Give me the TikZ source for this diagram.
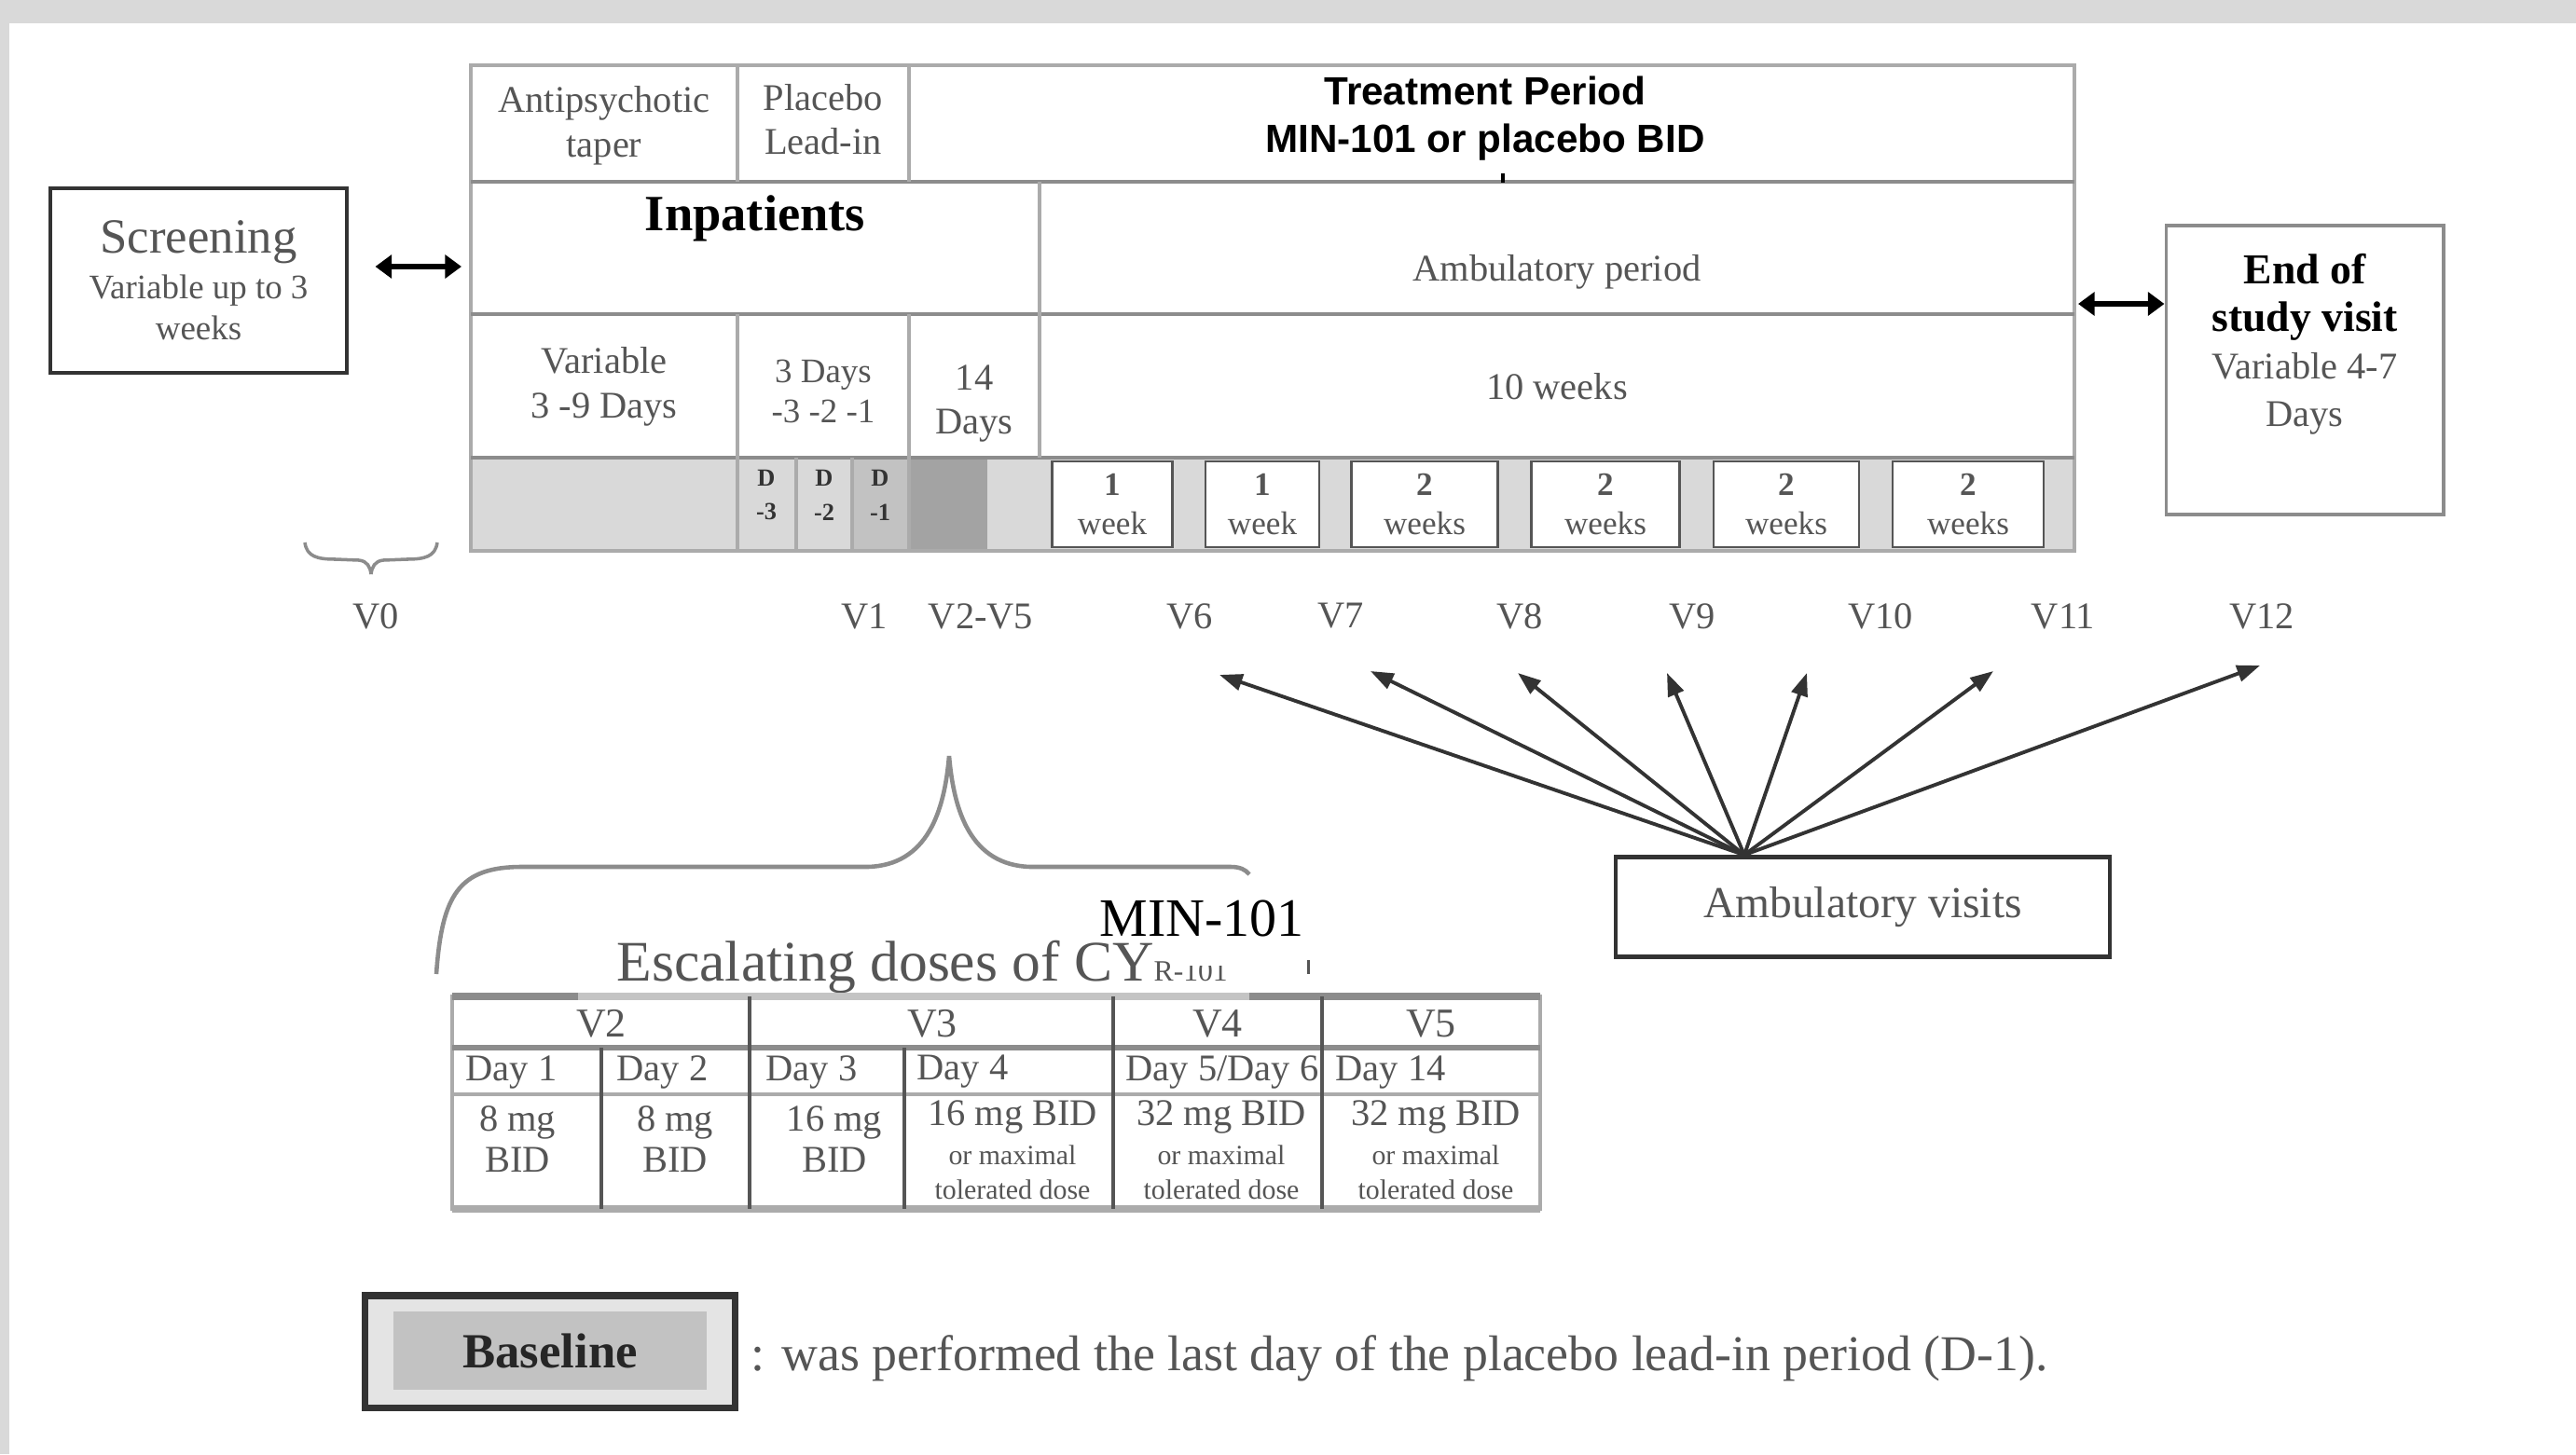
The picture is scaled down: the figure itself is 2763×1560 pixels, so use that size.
\documentclass[tikz,border=0pt]{standalone}
\usepackage{fontspec}
\setmainfont{Liberation Serif}
\newfontfamily\arialfont{Liberation Sans}
\usetikzlibrary{arrows.meta}
\definecolor{cornice}{HTML}{D9D9D9}
\definecolor{testo}{HTML}{555555}
\definecolor{bordo}{HTML}{8C8C8C}
\definecolor{grigio}{HTML}{ABABAB}
\definecolor{barra}{HTML}{D9D9D9}
\definecolor{barramedia}{HTML}{C2C2C2}
\definecolor{barrascura}{HTML}{A3A3A3}
\definecolor{nero}{HTML}{333333}
\definecolor{chiaro}{HTML}{E4E4E4}
\newcommand\setfs[2]{\fontsize{#1}{#2}\selectfont}
\begin{document}
\begin{tikzpicture}[x=0.01cm,y=-0.01cm,
    cella/.style={text=testo, align=center, inner sep=0pt, font=\setfs{11.5}{13.5}},
    visita/.style={text=testo, inner sep=0pt, font=\setfs{11.5}{13.5}},
    dose/.style={text=testo, align=center, inner sep=0pt, font=\setfs{11.5}{12.5}},
    piccolo/.style={text=testo, align=center, inner sep=0pt, font=\setfs{8.5}{10.5}},
    settimana/.style={draw=testo, fill=white, line width=0.8pt, minimum height=0.92cm,
        align=center, text=testo, inner sep=0pt, font=\setfs{10}{12}},
    doppia/.style={{Triangle[length=5pt,width=7pt]}-{Triangle[length=5pt,width=7pt]}, line width=1.6pt},
    freccia/.style={-{Triangle[length=7pt,width=5pt]}, line width=1.1pt, draw=nero},
    riga/.style={draw=bordo, line width=1.2pt},
    linea/.style={draw=grigio, line width=0.9pt},
    graffa/.style={draw=bordo, line width=1.3pt}]
    \useasboundingbox (0,0) rectangle (2763,1560);
    \fill[cornice] (0,0) rectangle (2763,1560);
    \fill[white] (10,25) rectangle (2763,1560);

    % tabella
    \fill[barra] (505,491) rectangle (2225,591);
    \fill[barramedia] (914,491) rectangle (975,591);
    \fill[barrascura] (975,491) rectangle (1059,591);
    \draw[linea, line width=1.2pt] (505,70) rectangle (2225,591);
    \draw[riga] (505,195) -- (2225,195);
    \draw[riga] (505,337) -- (2225,337);
    \draw[riga] (505,491) -- (2225,491);
    \draw[linea] (791,70) -- (791,195);
    \draw[linea] (975,70) -- (975,195);
    \draw[linea] (1115,195) -- (1115,491);
    \foreach \x in {791,975}
        \draw[linea] (\x,337) -- (\x,591);
    \foreach \x in {854,914}
        \draw[linea] (\x,491) -- (\x,591);
    \fill (1610,186) rectangle (1614,196);

    \node[cella] (antip) at (648,135) {Antipsychotic\\taper};
    \node[cella] (lead) at (883,128) {Placebo\\Lead-in};
    \node[cella, text=black, font=\arialfont\bfseries\setfs{12}{14.5}] (treat) at (1593,127) {Treatment Period\\MIN-101 or placebo BID};
    \node[cella, text=black, font=\bfseries\setfs{15.5}{18}] (inpat) at (810,234) {Inpatients};
    \node[cella] (ambper) at (1670,292) {Ambulatory period};
    \node[cella] (var) at (648,415) {Variable\\3 -9 Days};
    \node[cella, font=\setfs{10.5}{12}] (tre) at (883,420) {3 Days\\-3 -2 -1};
    \node[cella] (quattordici) at (1045,433) {14\\Days};
    \node[cella] (dieci) at (1670,415) {10 weeks};

    \foreach \x/\d [count=\i] in {822/-3, 884/-2, 944/-1}
        \node[cella, text=black!80, font=\bfseries\setfs{7.5}{10.5}] (d\i) at (\x,531) {D\\\d};

    \foreach \x/\w/\n/\u [count=\i] in {1193/1.29cm/1/week, 1354/1.22cm/1/week,
            1528/1.57cm/2/weeks, 1722/1.59cm/2/weeks, 1916/1.56cm/2/weeks, 2111/1.62cm/2/weeks}
        \node[settimana, minimum width=\w] (wk\i) at (\x,541) {\textbf{\n}\\\u};

    % visite
    \foreach \n/\x in {0/403, 1/927, 6/1276, 7/1438, 8/1630, 9/1815, 10/2017, 11/2213, 12/2426}
        \node[visita] (v\n) at (\x,661) {V\n};
    \node[visita] (v25) at (1052,661) {V2-V5};
    \draw[graffa, line width=1pt] (327,582) .. controls (329,597) and (340,600) .. (360,600) -- (385,601)
        .. controls (394,602) and (397,608) .. (398,616);
    \draw[graffa, line width=1pt] (469,582) .. controls (467,597) and (456,600) .. (436,600) -- (411,601)
        .. controls (402,602) and (399,608) .. (398,616);

    % scatole laterali
    \node[draw=nero, line width=1.1pt, minimum width=3.17cm, minimum height=1.98cm, align=center,
        text=testo, inner sep=0pt, font=\setfs{10.5}{12.5}] (scr) at (213,301)
        {{\setfs{15}{17}Screening}\\[1.5pt]Variable up to 3\\weeks};
    \node[draw=bordo, line width=1.1pt, minimum width=2.97cm, minimum height=3.09cm] (fine) at (2472,397) {};
    \node[cella, font=\setfs{11.5}{14.5}] (finetxt) at (2472,369)
        {{\color{black}\bfseries\setfs{13}{15}End of}\\{\color{black}\bfseries\setfs{13}{15}study visit}\\Variable 4-7\\Days};
    \coordinate (tabsx) at (505,286);
    \coordinate (tabdx) at (2225,326);
    \draw[doppia, shorten <=0.29cm, shorten >=0.1cm] (scr.east |- tabsx) -- (tabsx);
    \draw[doppia] ([xshift=0.04cm]tabdx) -- (fine.west |- tabdx);

    % frecce
    \node[draw=nero, line width=1.3pt, minimum width=5.3cm, minimum height=1.07cm, text=testo,
        font=\setfs{13.5}{16}] (amb) at (1998,973) {Ambulatory visits};
    \coordinate (hub) at ([xshift=-1.27cm]amb.north);
    \foreach \n/\x/\y in {6/1308/724, 7/1470/720, 8/1628/722, 9/1788/722, 10/1938/722, 11/2138/720, 12/2424/714} {
        \coordinate (t\n) at (\x,\y);
        \draw[freccia] (hub) -- (t\n);
    }

    % dosi
    \draw[graffa] (468,1045) .. controls (474,960) and (492,930) .. (560,930) -- (931,930)
        .. controls (995,928) and (1013,870) .. (1018,811) .. controls (1023,870) and (1041,928) .. (1105,930)
        -- (1320,930) .. controls (1330,930) and (1336,933) .. (1340,938);
    \node[anchor=base west, inner sep=0pt, text=testo, font=\setfs{17.5}{20}] (escal) at (661,1052)
        {Escalating doses of CY{\setfs{9}{10}R-101}};
    \fill[white] (1258,945) rectangle (1400,1036);
    \node[inner sep=0pt, font=\setfs{16.5}{18}] (min) at (1289,985) {MIN-101};
    \fill[testo] (1402,1030) rectangle (1405,1045);

    \draw[linea] (485,1069) rectangle (1652,1297);
    \draw[line width=2.2pt, draw=grigio!70] (485,1069) -- (1652,1069);
    \draw[line width=2.2pt, draw=bordo] (485,1069) -- (620,1069) (1340,1069) -- (1652,1069);
    \draw[line width=1.6pt, draw=bordo] (485,1124) -- (1652,1124);
    \draw[linea] (485,1174) -- (1652,1174);
    \draw[line width=2.2pt, draw=grigio] (485,1297) -- (1652,1297);
    \foreach \x in {804,1194,1418}
        \draw[draw=testo, line width=0.9pt] (\x,1069) -- (\x,1297);
    \foreach \x in {645,970}
        \draw[draw=testo, line width=0.9pt] (\x,1124) -- (\x,1297);

    \node[dose, font=\setfs{12.5}{14}] (dv2) at (645,1098) {V2};
    \node[dose, font=\setfs{12.5}{14}] (dv3) at (1000,1098) {V3};
    \node[dose, font=\setfs{12.5}{14}] (dv4) at (1306,1098) {V4};
    \node[dose, font=\setfs{12.5}{14}] (dv5) at (1535,1098) {V5};
    \node[dose, anchor=west] (g1) at (499,1150) {Day 1};
    \node[dose, anchor=west] (g2) at (661,1150) {Day 2};
    \node[dose, anchor=west] (g3) at (821,1150) {Day 3};
    \node[dose, anchor=west] (g4) at (983,1150) {Day 4};
    \node[dose, anchor=west] (g5) at (1207,1150) {Day 5/Day 6};
    \node[dose, anchor=west] (g6) at (1432,1150) {Day 14};
    \node[dose] (m1) at (555,1222) {8 mg\\BID};
    \node[dose] (m2) at (724,1222) {8 mg\\BID};
    \node[dose] (m3) at (895,1222) {16 mg\\BID};
    \node[dose] (m4) at (1086,1198) {16 mg BID};
    \node[dose] (m5) at (1310,1198) {32 mg BID};
    \node[dose] (m6) at (1540,1198) {32 mg BID};
    \foreach \x [count=\i from 4] in {1086,1310,1540}
        \node[piccolo] (m\i b) at (\x,1258) {or maximal\\tolerated dose};

    % legenda
    \node[draw=nero, line width=2pt, fill=chiaro, minimum width=3.97cm, minimum height=1.2cm] (basebox) at (590,1450) {};
    \node[fill=barramedia, minimum width=3.35cm, minimum height=0.83cm, text=black!85,
        font=\bfseries\setfs{15}{17}] (base) at (590,1449) {Baseline};
    \node[anchor=west, inner sep=0pt, text=testo, font=\setfs{15.3}{17}] (nota) at (805,1457)
        {: was performed the last day of the placebo lead-in period (D-1).};
\end{tikzpicture}
\end{document}
